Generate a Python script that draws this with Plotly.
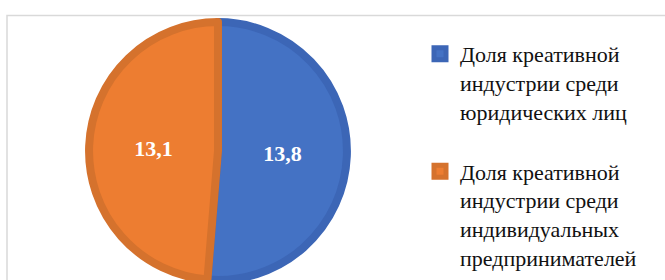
import plotly.graph_objects as go

categories = [
    "Доля креативной<br>индустрии среди<br>юридических лиц<br> ",
    "Доля креативной<br>индустрии среди<br>индивидуальных<br>предпринимателей",
]
values = [13.8, 13.1]
value_labels = ["13,8", "13,1"]

fill_colors = ["#4472C4", "#ED7D31"]
edge_colors = ["#3C66B6", "#D5722D"]

serif = "Liberation Serif"

fig = go.Figure(
    go.Pie(
        labels=categories,
        values=values,
        text=value_labels,
        textinfo="text",
        textposition="inside",
        insidetextfont=dict(family=serif, size=22, color="white", weight="bold"),
        sort=False,
        direction="clockwise",
        rotation=0,
        marker=dict(colors=fill_colors, line=dict(color=edge_colors, width=8)),
        domain=dict(x=[0.1338, 0.5218], y=[0.0, 0.921]),
        hoverinfo="label+value",
    )
)

fig.update_layout(
    width=665,
    height=280,
    margin=dict(l=0, r=0, t=0, b=0),
    paper_bgcolor="white",
    plot_bgcolor="white",
    showlegend=True,
    legend=dict(
        x=420 / 665,
        y=1 - 33 / 280,
        xanchor="left",
        yanchor="top",
        valign="top",
        font=dict(family=serif, size=22, color="#111111"),
        itemwidth=30,
        bgcolor="rgba(0,0,0,0)",
    ),
    shapes=[
        dict(
            type="rect",
            xref="paper",
            yref="paper",
            x0=7 / 665,
            x1=1.1,
            y0=-0.1,
            y1=1 - 15.5 / 280,
            line=dict(color="#D9D9D9", width=1.5),
            layer="below",
        )
    ],
)

fig.write_html(
    "out.html",
    config={"displayModeBar": False},
    post_script="document.body.style.margin='0';document.body.style.padding='0';",
)
